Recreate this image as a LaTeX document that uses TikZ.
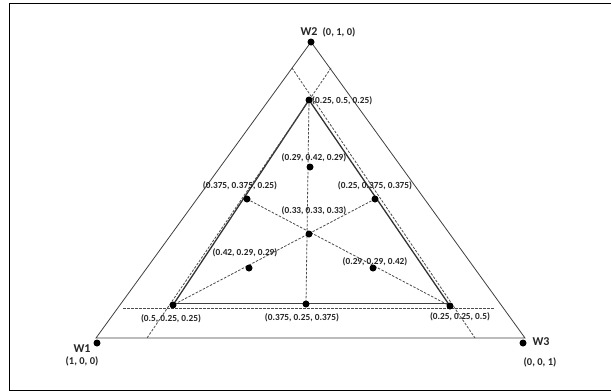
\documentclass[tikz,border=0pt]{standalone}
\usepackage{fontspec}
\setmainfont{Carlito}
\begin{document}
\begin{tikzpicture}[x=1pt,y=-1pt,
  dot/.style={circle,fill=black,inner sep=0pt,minimum size=7pt},
  lbl/.style={font=\bfseries\fontsize{9.3}{10}\selectfont,inner sep=0pt,text=black!85},
  wlbl/.style={font=\bfseries\fontsize{12}{13}\selectfont,inner sep=0pt,text=black!85},
  clbl/.style={font=\bfseries\fontsize{10.5}{12}\selectfont,inner sep=0pt,text=black!85},
  outer/.style={draw=black!75,line width=0.8pt},
  inner/.style={draw=black!80,line width=1.3pt},
  dsh/.style={draw=black!70,dashed,dash pattern=on 2.5pt off 1.5pt,line width=0.8pt}]
\useasboundingbox (0,0) rectangle (611,391);
\draw[line width=1pt] (9,391) -- (9,3) -- (612,3);
\draw[line width=1pt] (9,390) -- (612,390);
% outer triangle corners
\coordinate (c2) at (311,42);
\coordinate (c1) at (96,338);
\coordinate (c3) at (525,338);
\draw[outer] (c1) -- (c2) -- (c3) -- cycle;
% inner triangle
\coordinate (A) at (309,100);
\coordinate (B) at (173,305);
\coordinate (C) at (450,306);
\coordinate (M) at (306,304);
\coordinate (G) at (309,234);
\coordinate (P1) at (247,199);
\coordinate (P2) at (375,199);
\coordinate (Q1) at (249,268);
\coordinate (Q2) at (373,268);
\coordinate (T) at (310,167);
\draw[inner] (B) -- (A) -- (C);
\draw[outer,line width=1pt] (173,303.5) -- (450,303.5);
% dashed construction lines
\coordinate (d1s) at (292,68);
\coordinate (d1e) at (475,338);
\coordinate (d2s) at (331,68);
\coordinate (d2e) at (147,338);
\coordinate (h1) at (123,308);
\coordinate (h2) at (495,308);
\draw[dsh] (d1s) -- (d1e);
\draw[dsh] (d2s) -- (d2e);
\draw[dsh] (h1) -- (h2);
\draw[dsh] (A) -- (M);
\draw[dsh] (P1) -- (C);
\draw[dsh] (P2) -- (B);
% dots
\node[dot] (w2) at (311,42) {};
\node[dot] (w1) at (97,343) {};
\node[dot] (w3) at (523,343) {};
\node[dot] (nA) at (A) {};
\node[dot] (nB) at (B) {};
\node[dot] (nC) at (C) {};
\node[dot] (nM) at (M) {};
\node[dot] (nG) at (G) {};
\node[dot] (nP1) at (P1) {};
\node[dot] (nP2) at (P2) {};
\node[dot] (nQ1) at (Q1) {};
\node[dot] (nQ2) at (Q2) {};
\node[dot] (nT) at (T) {};
% labels
\node[wlbl] (lw2) at (309,32) {W2};
\node[clbl] (lw2c) at (339,32) {(0, 1, 0)};
\node[wlbl] (lw1) at (82,349) {W1};
\node[clbl] (lw1c) at (82,361) {(1, 0, 0)};
\node[wlbl] (lw3) at (541,342) {W3};
\node[clbl] (lw3c) at (540,362) {(0, 0, 1)};
\node[lbl,anchor=west] (lA) at (312,101) {(0.25, 0.5, 0.25)};
\node[lbl] (lT) at (314,158) {(0.29, 0.42, 0.29)};
\node[lbl] (lP1) at (240,186) {(0.375, 0.375, 0.25)};
\node[lbl] (lP2) at (375,186) {(0.25, 0.375, 0.375)};
\node[lbl] (lG) at (314,211) {(0.33, 0.33, 0.33)};
\node[lbl] (lQ1) at (245,253) {(0.42, 0.29, 0.29)};
\node[lbl] (lQ2) at (375,262) {(0.29, 0.29, 0.42)};
\node[lbl] (lB) at (171,319) {(0.5, 0.25, 0.25)};
\node[lbl] (lM) at (302,318) {(0.375, 0.25, 0.375)};
\node[lbl] (lC) at (460,317) {(0.25, 0.25, 0.5)};
\end{tikzpicture}
\end{document}
